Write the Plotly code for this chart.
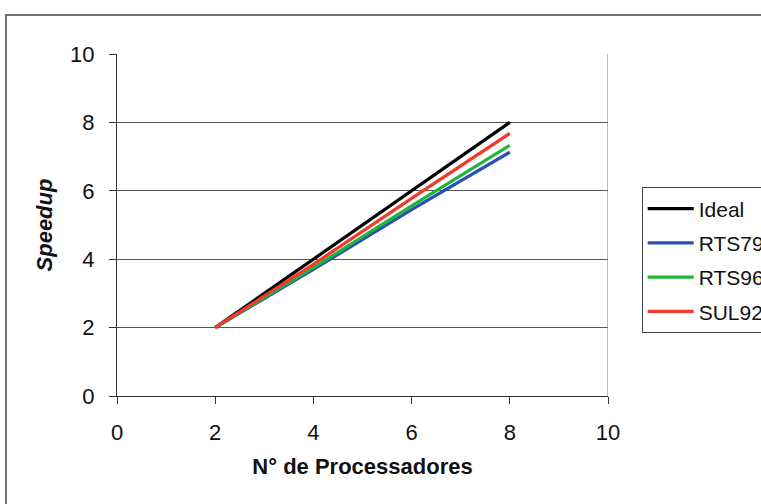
import plotly.graph_objects as go

processors = [2, 4, 6, 8]
ideal = [2, 4, 6, 8]
rts79 = [2, 3.7, 5.45, 7.13]
rts96 = [2, 3.75, 5.56, 7.33]
sul92 = [2, 3.85, 5.78, 7.68]

series = [
    ("Ideal", ideal, "#000000"),
    ("RTS79", rts79, "#2a4fb5"),
    ("RTS96", rts96, "#1fb53a"),
    ("SUL92", sul92, "#f03a2a"),
]

fig = go.Figure()
for i, (name, vals, color) in enumerate(series):
    fig.add_trace(go.Scatter(x=processors, y=vals, mode="lines", name=name,
                             line=dict(color=color, width=3.2), legendgroup=name))

font = "Liberation Sans, Arial, sans-serif"
fig.update_layout(
    width=761, height=504,
    margin=dict(l=117, r=153, t=54, b=108, autoexpand=False),
    paper_bgcolor="white", plot_bgcolor="white",
    font=dict(family=font, color="#111111"),
    xaxis=dict(range=[0, 10], tickvals=[0, 2, 4, 6, 8, 10], showgrid=False,
               zeroline=False, showline=True, linecolor="#333333", linewidth=1,
               ticks="outside", ticklen=7, tickcolor="#333333",
               tickfont=dict(size=22, family=font), ticklabelstandoff=10,
               title=dict(text="<b>N° de Processadores</b>", font=dict(size=22, family=font), standoff=14)),
    yaxis=dict(range=[0, 10], tickvals=[0, 2, 4, 6, 8, 10], showgrid=True,
               gridcolor="#555555", gridwidth=1, zeroline=False,
               showline=True, linecolor="#333333", linewidth=1,
               ticks="outside", ticklen=7, tickcolor="#333333",
               tickfont=dict(size=22, family=font), ticklabelstandoff=10,
               title=dict(text="<b><i>Speedup</i></b>", font=dict(size=22, family=font), standoff=11)),
    legend=dict(x=1.0686, y=0.61, xanchor="left", yanchor="top",
                bordercolor="#444444", borderwidth=1, bgcolor="white",
                font=dict(size=21, family=font), tracegroupgap=4,
                itemwidth=46, traceorder="grouped"),
    showlegend=True,
)
# right border of plot area
fig.add_shape(type="line", xref="x", yref="paper", x0=10, x1=10, y0=0, y1=1,
              line=dict(color="#777777", width=1))
# outer chart frame
fig.add_shape(type="rect", xref="paper", yref="paper",
              x0=(6 - 117) / 491, x1=(800 - 117) / 491,
              y0=(396 - 540) / 342, y1=(396 - 15) / 342,
              line=dict(color="#444444", width=1.5))

fig.write_html("out.html")
